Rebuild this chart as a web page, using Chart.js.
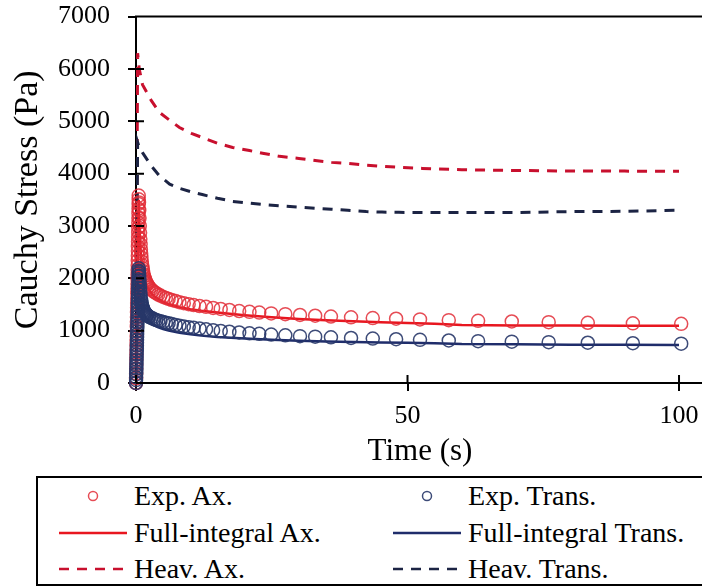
<!DOCTYPE html>
<html>
<head>
<meta charset="utf-8">
<script src="https://cdn.jsdelivr.net/npm/chart.js@4/dist/chart.umd.min.js"></script>
<style>
  html, body { margin: 0; padding: 0; background: #fff; overflow: hidden; }
  body { width: 702px; height: 586px; position: relative; font-family: "Liberation Serif", "Times New Roman", serif; }
  #wrap { position: absolute; left: 0; top: -17px; width: 712px; height: 487px; }
  #legend {
    position: absolute; left: 36px; top: 476px; width: 720px; height: 110px;
    box-sizing: border-box; border: 2px solid #000; background: #fff;
  }
  .lg-item { position: absolute; height: 36px; display: flex; align-items: center; font-size: 28px; color: #000; white-space: nowrap; }
  .lg-item svg { display: block; margin-right: 7px; }
</style>
</head>
<body>
<div id="wrap"><canvas id="chart"></canvas></div>
<div id="legend"></div>
<script>
// 実験データ（応力緩和）: 時間 [s] と応力 [Pa]
const expTime = [0, 0.0125, 0.025, 0.0375, 0.05, 0.0625, 0.075, 0.0875, 0.1, 0.1125, 0.125,
  0.1375, 0.15, 0.1625, 0.175, 0.1875, 0.2, 0.2125, 0.225, 0.2375, 0.25, 0.2625, 0.275, 0.2875,
  0.3, 0.3125, 0.325, 0.3375, 0.35, 0.3625, 0.375, 0.3875, 0.4, 0.4125, 0.425, 0.4375, 0.45,
  0.4625, 0.475, 0.4875, 0.5,
  0.55, 0.6, 0.65, 0.7, 0.75, 0.8, 0.85, 0.9, 0.95, 1.0, 1.07, 1.15, 1.22, 1.3, 1.4, 1.5, 1.6,
  1.7, 1.8, 1.9, 2.0,
  2.1, 2.3, 2.5, 2.8, 3.1, 3.4, 3.7, 4.1, 4.5, 5.0, 5.5, 6.0, 6.6, 7.3, 8.0, 8.8, 9.7, 10.6,
  11.7, 12.9, 14.2, 15.6, 17.2, 19.0, 20.9, 22.7, 24.9, 27.5, 30.2, 33.0, 35.9, 39.6, 43.6,
  47.9, 52.3, 57.6, 63.0, 69.2, 76.0, 83.2, 91.5, 100.4];
const expAx = [0, 90, 180, 270, 360, 450, 540, 630, 720, 810, 900, 990, 1080, 1170, 1260, 1350,
  1440, 1530, 1620, 1710, 1800, 1890, 1980, 2070, 2160, 2250, 2340, 2430, 2520, 2610, 2700,
  2790, 2880, 2970, 3060, 3150, 3240, 3330, 3420, 3510, 3580,
  3450, 3300, 3150, 3000, 2870, 2750, 2650, 2550, 2470, 2400, 2320, 2250, 2190, 2140, 2080,
  2040, 2000, 1970, 1945, 1920, 1900,
  1880, 1850, 1820, 1790, 1760, 1735, 1715, 1690, 1670, 1645, 1625, 1605, 1585, 1565, 1545,
  1525, 1505, 1490, 1470, 1455, 1435, 1415, 1395, 1375, 1360, 1345, 1330, 1315, 1300, 1285,
  1270, 1255, 1240, 1228, 1215, 1200, 1188, 1175, 1162, 1150, 1140, 1130];
const expTrans = [0, 55, 110, 165, 220, 275, 330, 385, 440, 495, 550, 605, 660, 715, 770, 825,
  880, 935, 990, 1045, 1100, 1155, 1210, 1265, 1320, 1375, 1430, 1485, 1540, 1595, 1650, 1705,
  1760, 1815, 1870, 1925, 1980, 2035, 2090, 2145, 2190,
  2120, 2050, 1960, 1880, 1810, 1740, 1680, 1620, 1580, 1540, 1500, 1470, 1445, 1420, 1390,
  1370, 1350, 1340, 1325, 1310, 1300,
  1290, 1275, 1260, 1245, 1230, 1215, 1205, 1190, 1180, 1165, 1150, 1140, 1125, 1110, 1095,
  1080, 1065, 1055, 1040, 1025, 1010, 995, 980, 965, 950, 940, 925, 910, 895, 885, 872, 860,
  848, 836, 825, 812, 800, 790, 780, 770, 760, 752];

// フルインテグラルモデル
const fitTime = [0, 0.5, 0.7, 1, 1.5, 2, 3, 4, 5, 6, 8, 10, 12, 15, 20, 25, 30, 35, 40, 45, 50,
  55, 60, 70, 80, 90, 100];
const fitAx = [0, 3500, 2800, 2300, 1980, 1840, 1690, 1610, 1550, 1510, 1450, 1410, 1380, 1345,
  1295, 1255, 1225, 1200, 1180, 1162, 1147, 1130, 1110, 1100, 1097, 1095, 1094];
const fitTrans = [0, 2200, 1800, 1480, 1300, 1220, 1125, 1070, 1030, 1000, 960, 930, 905, 878,
  848, 825, 808, 795, 784, 775, 768, 760, 745, 738, 733, 730, 728];

// Heaviside モデル
const heavTime = [0, 0.3, 0.6, 1.2, 2.8, 4.3, 6.2, 8, 10.2, 12.2, 15, 17.8, 20.9, 23.3, 26.4,
  30, 33, 36, 39, 42.4, 45.3, 48.4, 52.7, 60, 70, 80, 90, 100];
const heavAx = [0, 6300, 6000, 5700, 5400, 5170, 5020, 4880, 4770, 4690, 4580, 4500, 4440, 4390,
  4330, 4290, 4250, 4215, 4195, 4160, 4140, 4120, 4100, 4075, 4060, 4050, 4048, 4045];
const heavTrans = [0, 4600, 4500, 4400, 4150, 3960, 3800, 3720, 3650, 3600, 3530, 3470, 3435,
  3410, 3385, 3360, 3340, 3320, 3300, 3275, 3265, 3260, 3258, 3256, 3255, 3275, 3280, 3300];

const xTicks = [0, 50, 100];
const yTicks = [0, 1000, 2000, 3000, 4000, 5000, 6000, 7000];

const toXY = (xs, ys) => xs.map((x, i) => ({ x, y: ys[i] }));
const serif = '"Liberation Serif", "Times New Roman", serif';

const expStyle = (label, color) => ({
  label, data: null, showLine: false, pointStyle: 'circle', pointRadius: 6.5,
  pointBorderWidth: 1.5, pointBorderColor: color, pointBackgroundColor: 'rgba(0,0,0,0)',
  borderColor: color, clip: false,
});
const lineStyle = (label, color, dash) => ({
  label, data: null, showLine: true, pointRadius: 0, borderColor: color,
  borderWidth: dash ? 3 : 2.5, borderDash: dash || [], tension: 0, fill: false,
});

// 先頭ほど上に描かれる
const datasets = [
  { ...expStyle('Exp. Trans.', 'rgba(40,55,105,0.9)'), data: toXY(expTime, expTrans) },
  { ...expStyle('Exp. Ax.', 'rgba(226,45,55,0.85)'), data: toXY(expTime, expAx) },
  { ...lineStyle('Full-integral Trans.', '#1f2d6b'), data: toXY(fitTime, fitTrans) },
  { ...lineStyle('Full-integral Ax.', '#e8161f'), data: toXY(fitTime, fitAx) },
  { ...lineStyle('Heav. Trans.', '#1c2444', [10, 8]), data: toXY(heavTime, heavTrans) },
  { ...lineStyle('Heav. Ax.', '#c8102e', [10, 8]), data: toXY(heavTime, heavAx) },
];

// 軸を貫く目盛りと上辺の枠線
const axisDecor = {
  id: 'axisDecor',
  afterDraw(chart) {
    const { ctx, chartArea: a, scales: { x, y } } = chart;
    ctx.save();
    ctx.strokeStyle = '#000';
    ctx.lineWidth = 2;
    ctx.beginPath();
    ctx.moveTo(a.left - 1, a.top);
    ctx.lineTo(a.right, a.top);
    y.ticks.forEach((t) => {
      const py = y.getPixelForValue(t.value);
      ctx.moveTo(a.left, py);
      ctx.lineTo(a.left + 8, py);
    });
    x.ticks.forEach((t) => {
      const px = x.getPixelForValue(t.value);
      ctx.moveTo(px, a.bottom);
      ctx.lineTo(px, a.bottom - 8);
    });
    ctx.stroke();
    ctx.restore();
  },
};

const chart = new Chart(document.getElementById('chart'), {
  type: 'scatter',
  data: { datasets },
  options: {
    responsive: true,
    maintainAspectRatio: false,
    animation: false,
    layout: { padding: { top: 0, right: 0, bottom: 0, left: 0 } },
    plugins: { legend: { display: false }, tooltip: { enabled: false } },
    scales: {
      x: {
        type: 'linear', min: 0, max: 104.6,
        afterBuildTicks: (s) => { s.ticks = xTicks.map((v) => ({ value: v })); },
        afterFit: (s) => { s.height = 87; },
        border: { color: '#000', width: 2 },
        grid: { drawOnChartArea: false, tickLength: 8, color: '#000', lineWidth: 2 },
        ticks: { color: '#000', font: { family: serif, size: 26 }, padding: 10, maxRotation: 0, callback: (v) => String(v) },
        title: { display: true, text: 'Time (s)', color: '#000', font: { family: serif, size: 31 }, padding: { top: 0, bottom: 0 } },
      },
      y: {
        type: 'linear', min: 0, max: 7000,
        afterBuildTicks: (s) => { s.ticks = yTicks.map((v) => ({ value: v })); },
        afterFit: (s) => { s.width = 136; },
        border: { color: '#000', width: 2 },
        grid: { drawOnChartArea: false, tickLength: 8, color: '#000', lineWidth: 2 },
        ticks: { color: '#000', font: { family: serif, size: 26 }, padding: 18, callback: (v) => String(v) },
        title: { display: true, text: 'Cauchy Stress (Pa)', color: '#000', font: { family: serif, size: 34 }, padding: { top: 8, bottom: 0 } },
      },
    },
  },
  plugins: [axisDecor],
});

// 凡例（2列 × 3行）をデータセットから組み立てる
const legendOrder = ['Exp. Ax.', 'Exp. Trans.', 'Full-integral Ax.', 'Full-integral Trans.', 'Heav. Ax.', 'Heav. Trans.'];
const legendEl = document.getElementById('legend');
const colX = [21, 355];
const rowY = [0, 37, 73];
legendOrder.forEach((label, i) => {
  const ds = chart.data.datasets.find((d) => d.label === label);
  const item = document.createElement('div');
  item.className = 'lg-item';
  item.style.left = colX[i % 2] + 'px';
  item.style.top = rowY[Math.floor(i / 2)] + 'px';
  let sample;
  if (!ds.showLine) {
    sample = `<circle cx="34" cy="10" r="4.5" fill="none" stroke="${ds.pointBorderColor}" stroke-width="1.5"/>`;
  } else {
    const dash = ds.borderDash.length ? `stroke-dasharray="${ds.borderDash.join(' ')}"` : '';
    sample = `<line x1="0" y1="10" x2="68" y2="10" stroke="${ds.borderColor}" stroke-width="2.5" ${dash}/>`;
  }
  item.innerHTML = `<svg width="68" height="20">${sample}</svg><span>${label}</span>`;
  legendEl.appendChild(item);
});
</script>
</body>
</html>
